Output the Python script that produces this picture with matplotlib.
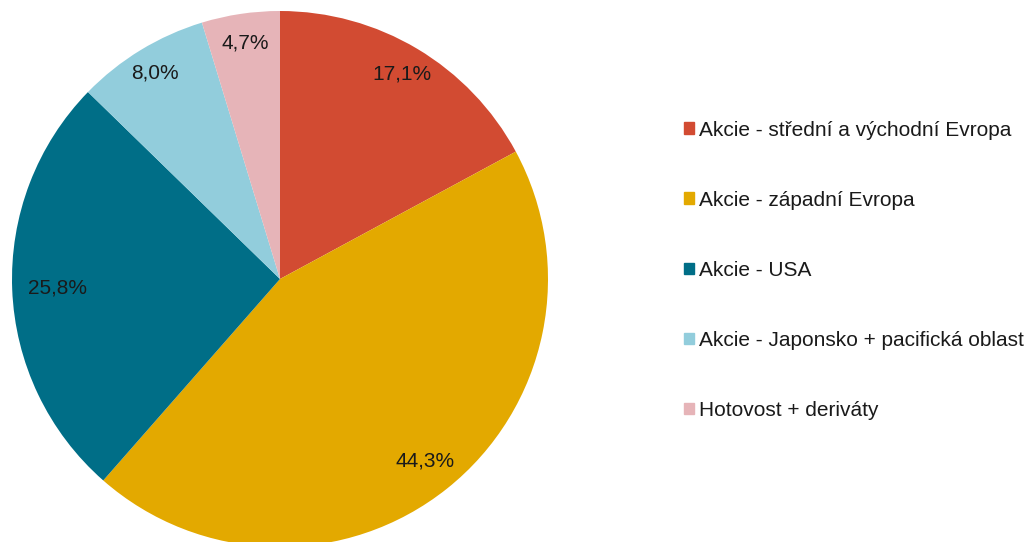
import numpy as np
import matplotlib.pyplot as plt
from matplotlib.patches import Rectangle

labels = ["Akcie - střední a východní Evropa", "Akcie - západní Evropa", "Akcie - USA",
          "Akcie - Japonsko + pacifická oblast", "Hotovost + deriváty"]
values = [17.1, 44.3, 25.8, 8.0, 4.7]
pct_labels = ["17,1%", "44,3%", "25,8%", "8,0%", "4,7%"]
colors = ["#D24B32", "#E3A900", "#006E87", "#92CDDC", "#E6B4B8"]
label_dist = [0.89, 0.87, 0.83, 0.90, 0.89]

plt.rcParams["font.family"] = ["Liberation Sans", "DejaVu Sans"]

W, H = 1034, 542
fig = plt.figure(figsize=(W / 100, H / 100), dpi=100)
cx, cy, r = 280, 279, 268
ax = fig.add_axes([(cx - r) / W, (H - cy - r) / H, 2 * r / W, 2 * r / H])

wedges, _ = ax.pie(values, colors=colors, startangle=90, counterclock=False, radius=1,
                   wedgeprops=dict(linewidth=0))
for w, p, d in zip(wedges, pct_labels, label_dist):
    mid = np.deg2rad((w.theta1 + w.theta2) / 2)
    ax.text(d * np.cos(mid), d * np.sin(mid), p, ha="center", va="center",
            fontsize=15, color="#1a1a1a")
ax.set_xlim(-1, 1)
ax.set_ylim(-1, 1)
ax.axis("off")

handles = [Rectangle((0, 0), 1, 1, color=c) for c in colors]
fig.legend(handles, labels, loc="upper left", bbox_to_anchor=(665 / W, 1 - 102 / H),
           frameon=False, fontsize=15, handlelength=0.5, handleheight=0.5,
           handletextpad=0.25, labelspacing=2.45, labelcolor="#1a1a1a")

fig.savefig("out.png", dpi=100)
